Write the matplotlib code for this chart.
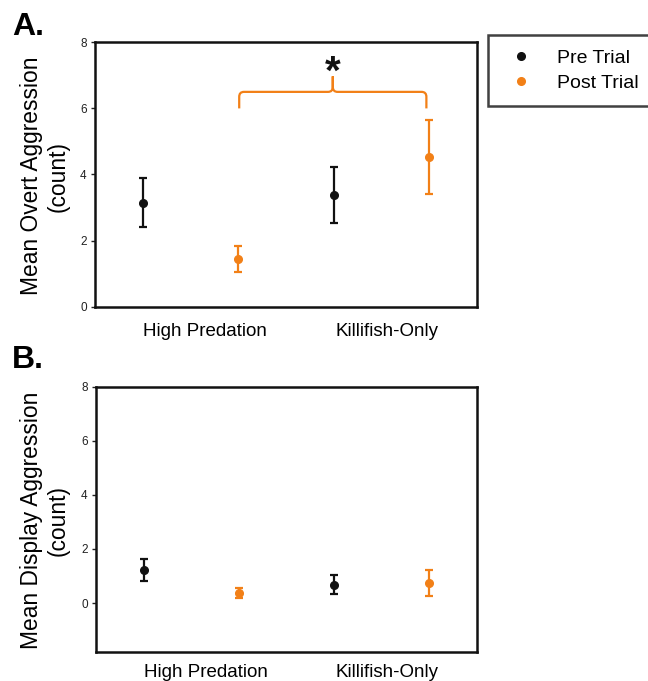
import numpy as np
import matplotlib
matplotlib.use("Agg")
import matplotlib.pyplot as plt
from matplotlib.path import Path
from matplotlib.patches import PathPatch

plt.rcParams["font.family"] = ["Liberation Sans", "DejaVu Sans"]

groups = ["High Predation", "Killifish-Only"]

# panel A: overt aggression
overt_pre = [3.15, 3.38]
overt_pre_err = [0.75, 0.85]
overt_post = [1.44, 4.52]
overt_post_err = [0.40, 1.12]

# panel B: display aggression
display_pre = [1.22, 0.68]
display_pre_err = [0.40, 0.36]
display_post = [0.37, 0.74]
display_post_err = [0.17, 0.47]

black = "#111111"
orange = "#F28017"

fig = plt.figure(figsize=(6.48, 6.81), dpi=100)
W, H = 648, 681


def px_axes(l, t, r, b):
    return fig.add_axes([l / W, 1 - b / H, (r - l) / W, (b - t) / H])


axA = px_axes(95, 42.3, 477, 306.7)
axB = px_axes(96, 386.7, 477, 651.7)

x_pre = np.arange(len(groups)) * 2 + 0.5
x_post = np.arange(len(groups)) * 2 + 1.5


def draw(ax, pre, pre_err, post, post_err, ylim, label_pad):
    ax.errorbar(x_pre, pre, yerr=pre_err, fmt="o", color=black, ms=5.5,
                elinewidth=1.6, capsize=2.9, capthick=1.6, label="Pre Trial")
    ax.errorbar(x_post, post, yerr=post_err, fmt="o", color=orange, ms=5.5,
                elinewidth=1.6, capsize=2.9, capthick=1.6, label="Post Trial")
    ax.set_xlim(0, 4)
    ax.set_ylim(*ylim)
    ax.set_yticks([0, 2, 4, 6, 8])
    ax.tick_params(axis="y", labelsize=8.5, length=3, width=1, colors="#222222", pad=3)
    ax.set_xticks([1.15, 3.06])
    ax.set_xticklabels(groups, fontsize=13.5)
    ax.tick_params(axis="x", length=0, pad=label_pad)
    for s in ax.spines.values():
        s.set_linewidth(1.8)
        s.set_color(black)


draw(axA, overt_pre, overt_pre_err, overt_post, overt_post_err, (0, 8), 12)
draw(axB, display_pre, display_pre_err, display_post, display_post_err, (-1.8, 8), 8.5)

# significance brace
x0, x1, xm = 1.51, 3.47, 2.49
y_end, y_h, y_tip = 6.0, 6.5, 6.97
rx, ry = 0.05, 0.15
verts = [(x0, y_end), (x0, y_h - ry), (x0, y_h), (x0 + rx, y_h),
         (xm - rx, y_h), (xm, y_h), (xm, y_h + ry), (xm, y_tip),
         (xm, y_h + ry), (xm, y_h), (xm + rx, y_h),
         (x1 - rx, y_h), (x1, y_h), (x1, y_h - ry), (x1, y_end)]
codes = [Path.MOVETO, Path.LINETO, Path.CURVE3, Path.CURVE3,
         Path.LINETO, Path.CURVE3, Path.CURVE3, Path.LINETO,
         Path.LINETO, Path.CURVE3, Path.CURVE3,
         Path.LINETO, Path.CURVE3, Path.CURVE3, Path.LINETO]
axA.add_patch(PathPatch(Path(verts, codes), fill=False, edgecolor=orange,
                        lw=1.6, clip_on=False))
axA.text(xm, 6.75, "*", ha="center", va="baseline", fontsize=29,
         fontweight="bold", color=black)

# y labels
fig.text(45 / W, 1 - 176 / H, "Mean Overt Aggression\n(count)", rotation=90,
         ha="center", va="center", ma="center", fontsize=16.4)
fig.text(45 / W, 1 - 520 / H, "Mean Display Aggression\n(count)", rotation=90,
         ha="center", va="center", ma="center", fontsize=16.4)

# panel letters
fig.text(12 / W, 1 - 35 / H, "A.", fontsize=23, fontweight="bold", va="baseline")
fig.text(12 / W, 1 - 368 / H, "B.", fontsize=23, fontweight="bold", va="baseline")

handles, labels = axA.get_legend_handles_labels()
handles = [h[0] for h in handles]
leg = fig.legend(handles, labels, loc="upper left",
                 bbox_to_anchor=(488 / W, 1 - 35 / H), borderaxespad=0,
                 fontsize=14, frameon=True, fancybox=False, handlelength=1.96,
                 handletextpad=0.88, labelspacing=0.41, borderpad=0.72)
leg.get_frame().set_edgecolor(black)
leg.get_frame().set_linewidth(1.8)

fig.savefig("out.png", dpi=100)
